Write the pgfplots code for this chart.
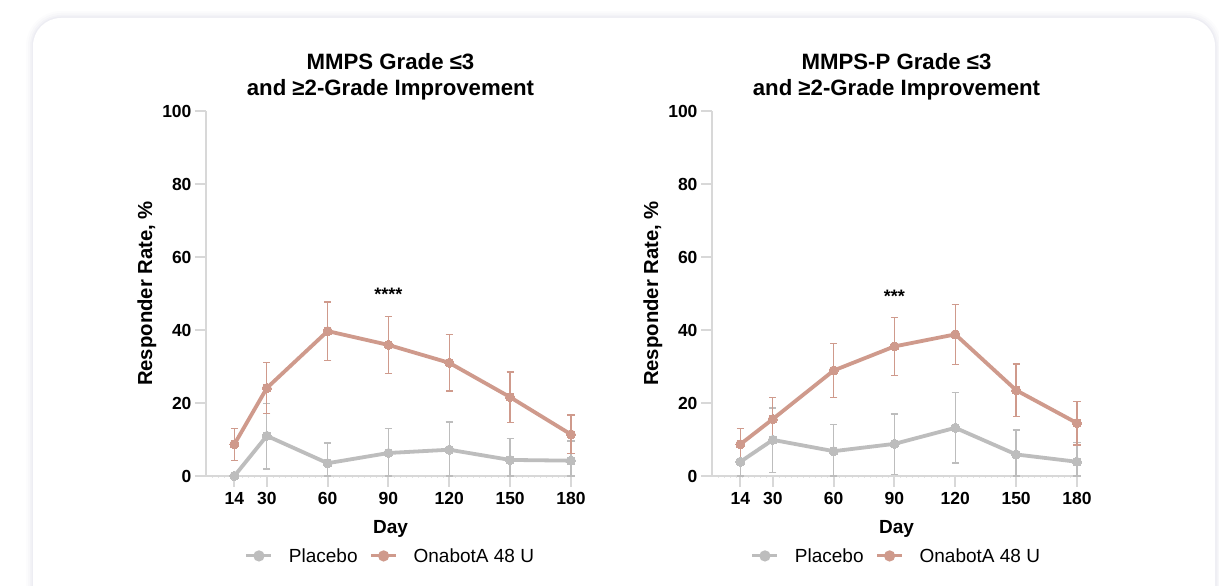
\documentclass[border=0pt]{standalone}
\usepackage{fontspec}
\setmainfont{Liberation Sans}
\usepackage{pgfplots}
\pgfplotsset{compat=1.18}
\definecolor{onab}{HTML}{CF9A8C}
\definecolor{plac}{HTML}{BDBDBD}
\definecolor{axgray}{HTML}{D8D8D8}

\pgfplotsset{
  myax/.style={
    scale only axis, width=369pt, height=365pt,
    xmin=0, xmax=182, ymin=0, ymax=100, clip=false,
    axis x line*=bottom, axis y line*=left,
    axis line style={axgray, line width=2.2pt},
    xtick={14,30,60,90,120,150,180}, ytick={0,20,40,60,80,100},
    minor xtick={3,6,...,180},
    tick style={axgray, line width=2pt},
    minor tick style={axgray!70, line width=0.8pt},
    tick align=outside, major tick length=11pt, minor tick length=2pt,
    /pgf/number format/assume math mode=true,
    tick label style={font=\fontsize{17.5}{17.5}\selectfont\bfseries},
    xticklabel style={yshift=-2pt},
    xlabel={Day}, ylabel={Responder Rate, \%},
    xlabel style={font=\fontsize{19}{19}\selectfont\bfseries, at={(axis description cs:0.5,-0.145)}, anchor=center},
    ylabel style={font=\fontsize{20.3}{20.3}\selectfont\bfseries, at={(axis description cs:-0.160,0.5)}, anchor=center, rotate=0},
    title style={font=\fontsize{22.2}{26}\selectfont\bfseries, align=center, at={(axis description cs:0.5,1.077)}, anchor=center},
    legend style={draw=none, fill=none, at={(axis description cs:0.5,-0.219)}, anchor=center,
      font=\fontsize{19}{19}\selectfont, legend columns=2,
      /tikz/every even column/.append style={column sep=10pt},
      /tikz/every odd column/.append style={column sep=14pt},
      legend cell align=left},
    legend image code/.code={
      \draw[#1, line width=3pt] (0pt,0pt) -- (25pt,0pt);
      \fill[#1] (12.5pt,0pt) circle (3.6pt);
    },
  },
  series/.style={
    color=#1, line width=3.8pt, mark=*, mark size=4.6pt,
    mark options={solid, fill=#1, draw=#1, line width=0pt},
    error bars/.cd, y dir=both, y explicit,
    error bar style={line width=1.3pt, color=#1},
    error mark options={rotate=90, mark size=3.6pt, line width=1.3pt, color=#1},
  },
}

\begin{document}
\begin{tikzpicture}[x=1pt,y=1pt]
\useasboundingbox (0,0) rectangle (1219,586);
\fill[white] (0,0) rectangle (1219,586);
\foreach \w/\o in {14/0.012,10/0.015,6/0.02,3/0.025} {
  \draw[line width=\w pt, draw=black!60!blue, draw opacity=\o, rounded corners=28pt] (33,-40) rectangle (1215,568);
}
\fill[white, rounded corners=28pt] (33,-40) rectangle (1215,568);

% Left panel
\begin{axis}[myax, at={(206pt,110pt)}, anchor=south west,
  title={MMPS Grade ≤3\\and ≥2-Grade Improvement}]
\addplot+[series=plac] coordinates {
 (14,0.0) += (0,0) -= (0,0)
 (30,11.0) += (0,8.8) -= (0,9.1)
 (60,3.5) += (0,5.5) -= (0,3.5)
 (90,6.3) += (0,6.8) -= (0,6.3)
 (120,7.2) += (0,7.6) -= (0,7.2)
 (150,4.4) += (0,5.8) -= (0,4.4)
 (180,4.2) += (0,5.4) -= (0,4.2)
};
\addlegendentry{Placebo}
\addplot+[series=onab] coordinates {
 (14,8.7) += (0,4.4) -= (0,4.4)
 (30,24.1) += (0,7.0) -= (0,7.0)
 (60,39.7) += (0,8.0) -= (0,8.0)
 (90,35.9) += (0,7.8) -= (0,7.8)
 (120,31.0) += (0,7.7) -= (0,7.7)
 (150,21.6) += (0,6.9) -= (0,6.9)
 (180,11.4) += (0,5.3) -= (0,5.3)
};
\addlegendentry{OnabotA 48 U}
\node[font=\fontsize{18}{18}\selectfont\bfseries, anchor=base] at (axis cs:90,48.1) {****};
\end{axis}

% Right panel
\begin{axis}[myax, at={(712pt,110pt)}, anchor=south west,
  title={MMPS-P Grade ≤3\\and ≥2-Grade Improvement}]
\addplot+[series=plac] coordinates {
 (14,3.9) += (0,5.5) -= (0,3.9)
 (30,9.9) += (0,8.7) -= (0,8.9)
 (60,6.8) += (0,7.4) -= (0,6.8)
 (90,8.8) += (0,8.2) -= (0,8.3)
 (120,13.2) += (0,9.6) -= (0,9.6)
 (150,5.9) += (0,6.7) -= (0,5.9)
 (180,3.9) += (0,5.3) -= (0,3.9)
};
\addlegendentry{Placebo}
\addplot+[series=onab] coordinates {
 (14,8.7) += (0,4.4) -= (0,4.4)
 (30,15.6) += (0,6.0) -= (0,6.0)
 (60,28.9) += (0,7.4) -= (0,7.4)
 (90,35.5) += (0,7.9) -= (0,7.9)
 (120,38.8) += (0,8.2) -= (0,8.2)
 (150,23.5) += (0,7.2) -= (0,7.2)
 (180,14.5) += (0,6.0) -= (0,6.0)
};
\addlegendentry{OnabotA 48 U}
\node[font=\fontsize{18}{18}\selectfont\bfseries, anchor=base] at (axis cs:90,47.5) {***};
\end{axis}
\end{tikzpicture}
\end{document}
